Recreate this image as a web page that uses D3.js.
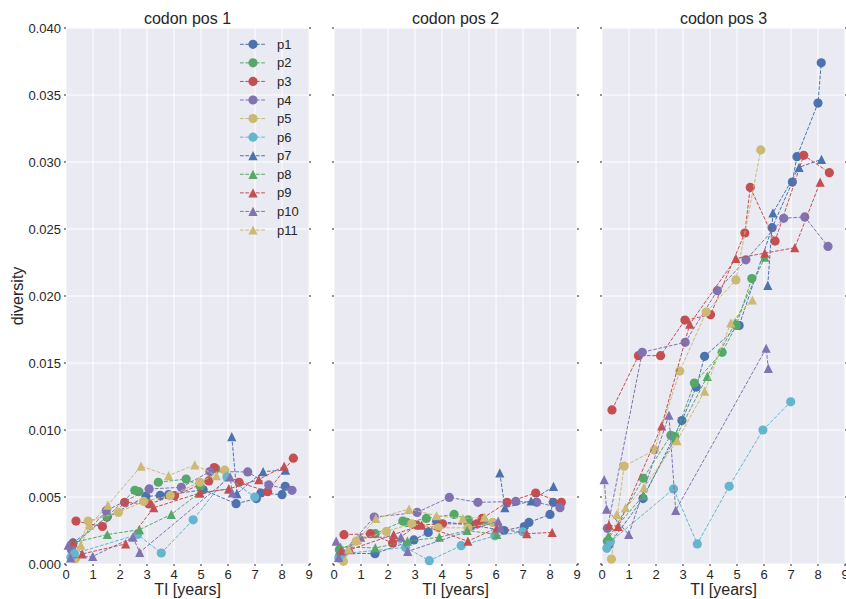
<!DOCTYPE html>
<html>
<head>
<meta charset="utf-8">
<script src="https://cdn.jsdelivr.net/npm/d3@7"></script>
<style>
  body { margin: 0; background: #fff; }
  svg { display: block; font-family: "Liberation Sans", Arial, sans-serif; }
</style>
</head>
<body>
<svg id="chart" width="846" height="599"></svg>
<script>
// patients and their times since infection (years)
const patients = ['p1','p2','p3','p4','p5','p6','p7','p8','p9','p10','p11']
const titles = ['codon pos 1', 'codon pos 2', 'codon pos 3']
const xTicks = d3.range(0, 10)
const yTicks = d3.range(0, 0.0401, 0.005)

const times = {
  p1: [0.26, 1.52, 2.96, 3.49, 3.8, 5.08, 6.3, 7.05, 7.22, 8.0, 8.12],
  p2: [0.2, 1.53, 2.55, 2.7, 3.42, 4.45, 4.97, 5.55],
  p3: [0.37, 1.35, 2.17, 3.07, 4.02, 5.29, 5.49, 6.41, 7.47, 8.42],
  p4: [0.2, 1.49, 3.08, 4.27, 5.33, 6.73, 7.51, 8.37],
  p5: [0.35, 0.82, 1.94, 2.88, 3.86, 4.96, 5.88],
  p6: [0.18, 0.31, 2.65, 3.53, 4.71, 5.96, 6.99],
  p7: [6.14, 6.33, 7.3, 8.13],
  p8: [0.24, 1.53, 2.72, 3.9, 4.93, 6.03],
  p9: [0.26, 0.6, 2.21, 3.25, 4.96, 6.03, 7.14, 8.08],
  p10: [0.08, 0.17, 0.99, 2.48, 2.73, 6.08, 6.16],
  p11: [0.55, 0.88, 1.55, 2.78, 3.8, 4.77, 5.57]
}

// diversity at codon position 1
const div1 = {
  p1: [0.00157, 0.0035, 0.00504, 0.00512, 0.00517, 0.00554, 0.0045, 0.00488, 0.0053, 0.00517, 0.0058],
  p2: [0.0013, 0.00355, 0.0055, 0.0054, 0.0061, 0.00634, 0.0058, 0.0071],
  p3: [0.0032, 0.0028, 0.0046, 0.00448, 0.0051, 0.0062, 0.0072, 0.0061, 0.0054, 0.0079],
  p4: [0.00107, 0.00398, 0.0056, 0.00572, 0.0069, 0.00687, 0.0059, 0.0055],
  p5: [0.0004, 0.0032, 0.00385, 0.00467, 0.0051, 0.0061, 0.0070],
  p6: [0.0005, 0.00077, 0.0022, 0.00082, 0.0033, 0.0065, 0.0050],
  p7: [0.0095, 0.00525, 0.0069, 0.0070],
  p8: [0.00157, 0.0022, 0.00256, 0.0037, 0.0053, 0.0056],
  p9: [0.00164, 0.00075, 0.0015, 0.0042, 0.0053, 0.0056, 0.0063, 0.0073],
  p10: [0.0014, 0.00045, 0.00057, 0.002, 0.00087, 0.0065, 0.0053],
  p11: [0.0014, 0.0029, 0.0044, 0.0073, 0.0066, 0.0074, 0.0066]
}

// codon position 2
const div2 = {
  p1: [0.00082, 0.00077, 0.0018, 0.00236, 0.0032, 0.0029, 0.0025, 0.0028, 0.0031, 0.0037, 0.0046],
  p2: [0.00107, 0.00226, 0.0032, 0.0031, 0.0034, 0.0037, 0.0033, 0.0032],
  p3: [0.00219, 0.00226, 0.00157, 0.0029, 0.0030, 0.0030, 0.0034, 0.0046, 0.0053, 0.0046],
  p4: [0.00057, 0.0035, 0.00385, 0.00497, 0.0046, 0.00467, 0.0046, 0.0042],
  p5: [0.0002, 0.0017, 0.00243, 0.003, 0.0027, 0.0027, 0.0031],
  p6: [0.00045, 0.00077, 0.00124, 0.00025, 0.00137, 0.0021, 0.0024],
  p7: [0.0068, 0.0042, 0.0047, 0.0058],
  p8: [0.00127, 0.0012, 0.0017, 0.002, 0.0025, 0.0022],
  p9: [0.001, 0.00107, 0.0022, 0.0029, 0.0017, 0.0027, 0.00226, 0.00236],
  p10: [0.0017, 0.0005, 0.002, 0.002, 0.00094, 0.0032, 0.0027],
  p11: [0.0011, 0.0018, 0.0034, 0.0041, 0.0036, 0.0034, 0.0035]
}

// codon position 3
const div3 = {
  p1: [0.00144, 0.00488, 0.0107, 0.0132, 0.0155, 0.0178, 0.0251, 0.0285, 0.0304, 0.0344, 0.0374],
  p2: [0.0017, 0.0064, 0.0096, 0.0095, 0.0135, 0.0158, 0.0178, 0.0213],
  p3: [0.0115, 0.01555, 0.01555, 0.0182, 0.0186, 0.0247, 0.0281, 0.0241, 0.0305, 0.0292],
  p4: [0.00266, 0.0158, 0.01654, 0.0204, 0.0227, 0.0258, 0.0259, 0.0237],
  p5: [0.00037, 0.0073, 0.0085, 0.0144, 0.0188, 0.0212, 0.0309],
  p6: [0.00117, 0.00166, 0.0056, 0.0015, 0.0058, 0.0100, 0.0121],
  p7: [0.0208, 0.0262, 0.0296, 0.0302],
  p8: [0.0021, 0.0051, 0.0094, 0.0140, 0.0180, 0.0229],
  p9: [0.0029, 0.0028, 0.0103, 0.0179, 0.0228, 0.0232, 0.0236, 0.0285],
  p10: [0.0063, 0.0041, 0.0022, 0.0111, 0.004, 0.0161, 0.0146],
  p11: [0.0037, 0.0042, 0.0057, 0.0092, 0.0129, 0.018, 0.0197]
}

const divs = [div1, div2, div3]

const palette = ['#4C72B0', '#55A868', '#C44E52', '#8172B2', '#CCB974', '#64B5CD']
const color = (p, i) => palette[i % 6]
const isTriangle = i => i >= 6

const svg = d3.select('#chart')
const panelX = [66, 334, 602]
const panelW = 243
const plotTop = 28, plotBottom = 564
const textColor = '#262626'

const y = d3.scaleLinear().domain([0, 0.04]).range([plotBottom, plotTop])

// marker path (matplotlib style triangle_up / circle)
const markerPath = (i) => {
  if (isTriangle(i)) {
    const r = 4.6
    return `M0,${-r}L${r},${r}L${-r},${r}Z`
  }
  return d3.symbol(d3.symbolCircle, Math.PI * 4.6 * 4.6)()
}

titles.forEach((title, k) => {
  const x = d3.scaleLinear().domain([0, 9]).range([panelX[k], panelX[k] + panelW])
  const g = svg.append('g').attr('class', 'panel')

  g.append('rect')
    .attr('x', panelX[k]).attr('y', plotTop)
    .attr('width', panelW).attr('height', plotBottom - plotTop)
    .attr('fill', '#EAEAF2')

  // grid
  g.selectAll('line.gx').data(xTicks).join('line')
    .attr('class', 'gx')
    .attr('x1', d => x(d)).attr('x2', d => x(d))
    .attr('y1', plotTop).attr('y2', plotBottom)
    .attr('stroke', '#fff').attr('stroke-width', 1)
  g.selectAll('line.gy').data(yTicks).join('line')
    .attr('class', 'gy')
    .attr('x1', panelX[k]).attr('x2', panelX[k] + panelW)
    .attr('y1', d => y(d)).attr('y2', d => y(d))
    .attr('stroke', '#fff').attr('stroke-width', 1)

  // tiny tick marks at both sides
  g.selectAll('line.tl').data(yTicks).join('line')
    .attr('class', 'tl')
    .attr('x1', panelX[k] - 2).attr('x2', panelX[k])
    .attr('y1', d => y(d)).attr('y2', d => y(d))
    .attr('stroke', textColor).attr('stroke-width', 1)
  g.selectAll('line.tr').data(yTicks).join('line')
    .attr('class', 'tr')
    .attr('x1', panelX[k] + panelW).attr('x2', panelX[k] + panelW + 2)
    .attr('y1', d => y(d)).attr('y2', d => y(d))
    .attr('stroke', textColor).attr('stroke-width', 1)
  g.selectAll('line.tb').data(xTicks).join('line')
    .attr('class', 'tb')
    .attr('x1', d => x(d)).attr('x2', d => x(d))
    .attr('y1', plotBottom).attr('y2', plotBottom + 2)
    .attr('stroke', textColor).attr('stroke-width', 1)

  // x tick labels
  g.selectAll('text.xt').data(xTicks).join('text')
    .attr('class', 'xt')
    .attr('x', d => x(d)).attr('y', plotBottom + 15)
    .attr('text-anchor', 'middle')
    .attr('font-size', 13).attr('fill', textColor)
    .text(d => d)

  g.append('text')
    .attr('x', panelX[k] + panelW / 2).attr('y', 595)
    .attr('text-anchor', 'middle')
    .attr('font-size', 16).attr('fill', textColor)
    .text('TI [years]')

  g.append('text')
    .attr('x', panelX[k] + panelW / 2).attr('y', 24)
    .attr('text-anchor', 'middle')
    .attr('font-size', 16).attr('fill', textColor)
    .text(title)

  // series
  const line = d3.line().x(d => x(d.t)).y(d => y(d.v))
  patients.forEach((p, i) => {
    const pts = times[p].map((t, j) => ({ t: t, v: divs[k][p][j] }))
    const sg = g.append('g').attr('class', 'series')
    sg.append('path')
      .attr('d', line(pts))
      .attr('fill', 'none')
      .attr('stroke', color(p, i))
      .attr('stroke-width', 1)
      .attr('stroke-dasharray', '3.7,1.6')
    sg.selectAll('path.mk').data(pts).join('path')
      .attr('class', 'mk')
      .attr('transform', d => `translate(${x(d.t)},${y(d.v)})`)
      .attr('d', markerPath(i))
      .attr('fill', color(p, i))
  })
})

// y axis labels (first panel only)
svg.selectAll('text.yt').data(yTicks).join('text')
  .attr('class', 'yt')
  .attr('x', 61).attr('y', d => y(d))
  .attr('dy', '0.35em')
  .attr('text-anchor', 'end')
  .attr('font-size', 13).attr('fill', textColor)
  .text(d => d3.format('.3f')(d))

svg.append('text')
  .attr('transform', `translate(23,${(plotTop + plotBottom) / 2}) rotate(-90)`)
  .attr('text-anchor', 'middle')
  .attr('font-size', 16).attr('fill', textColor)
  .text('diversity')

// legend
const legendG = svg.append('g').attr('class', 'legend')
patients.forEach((p, i) => {
  const ly = 44.3 + 18.57 * i
  legendG.append('line')
    .attr('x1', 240).attr('x2', 266)
    .attr('y1', ly).attr('y2', ly)
    .attr('stroke', color(p, i)).attr('stroke-width', 1)
    .attr('stroke-dasharray', '3.7,1.6')
  legendG.append('path')
    .attr('transform', `translate(253,${ly})`)
    .attr('d', markerPath(i))
    .attr('fill', color(p, i))
  legendG.append('text')
    .attr('x', 277).attr('y', ly)
    .attr('dy', '0.35em')
    .attr('font-size', 13).attr('fill', textColor)
    .text(p)
})
</script>
</body>
</html>
